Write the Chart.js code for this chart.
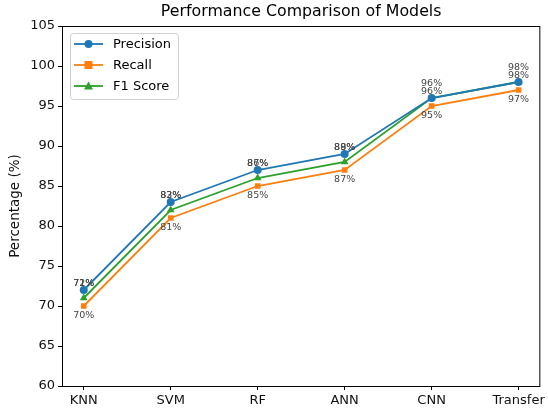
<!DOCTYPE html>
<html>
<head>
<meta charset="utf-8">
<script src="https://cdn.jsdelivr.net/npm/chart.js@4"></script>
<style>
  body { margin: 0; background: #fff; }
  #wrap { width: 548px; height: 413px; }
</style>
</head>
<body>
<div id="wrap"><canvas id="perf"></canvas></div>
<script>
const models = ['KNN', 'SVM', 'RF', 'ANN', 'CNN', 'Transfer']
const precision = [72, 83, 87, 89, 96, 98]
const recall = [70, 81, 85, 87, 95, 97]
const f1 = [71, 82, 86, 88, 96, 98]
const yTicks = [60, 65, 70, 75, 80, 85, 90, 95, 100, 105]

const FONT = "'DejaVu Sans', sans-serif"

const toPts = arr => arr.map((v, i) => ({x: i, y: v}))

// draws frame, title, legend and the % labels
const extras = {
  id: 'extras',
  afterDatasetsDraw(chart) {
    const {ctx, chartArea: a, scales} = chart
    ctx.save()
    // frame
    ctx.strokeStyle = '#000'
    ctx.lineWidth = 1
    ctx.strokeRect(a.left + 0.5, a.top + 0.5, a.right - a.left - 1, a.bottom - a.top)

    // title
    ctx.fillStyle = '#000'
    ctx.font = '15.8px ' + FONT
    ctx.textAlign = 'center'
    ctx.textBaseline = 'middle'
    ctx.fillText('Performance Comparison of Models', (a.left + a.right) / 2, 12)

    // value labels
    ctx.font = '9.5px ' + FONT
    ctx.fillStyle = '#444'
    const lab = (arr, off) => arr.forEach((v, i) => {
      ctx.fillText(v + '%', scales.x.getPixelForValue(i), scales.y.getPixelForValue(v + off))
    })
    lab(precision, 0.8)
    lab(f1, 1.8)
    lab(recall, -1.15)

    // legend
    const lx = 70, ly = 33, lw = 108, lh = 66
    ctx.fillStyle = 'rgba(255,255,255,0.8)'
    ctx.strokeStyle = '#d0d0d0'
    ctx.beginPath()
    ctx.roundRect(lx + 0.5, ly + 0.5, lw, lh, 3)
    ctx.fill()
    ctx.stroke()
    chart.data.datasets.forEach((ds, k) => {
      const y = ly + 11 + k * 21
      ctx.strokeStyle = ds.borderColor
      ctx.lineWidth = 1.8
      ctx.beginPath()
      ctx.moveTo(lx + 4, y)
      ctx.lineTo(lx + 33, y)
      ctx.stroke()
      ctx.fillStyle = ds.borderColor
      const cx = lx + 18.5
      if (ds.pointStyle === 'circle') {
        ctx.beginPath(); ctx.arc(cx, y, 4, 0, Math.PI * 2); ctx.fill()
      } else if (ds.pointStyle === 'rect') {
        ctx.fillRect(cx - 4, y - 4, 8, 8)
      } else {
        ctx.beginPath(); ctx.moveTo(cx, y - 4.5); ctx.lineTo(cx + 4.5, y + 3.5); ctx.lineTo(cx - 4.5, y + 3.5); ctx.closePath(); ctx.fill()
      }
      ctx.fillStyle = '#000'
      ctx.font = '13px ' + FONT
      ctx.textAlign = 'left'
      ctx.fillText(ds.label, lx + 43, y + 1)
    })
    ctx.restore()
  }
}

const ds = (label, color, style, data) => ({
  label,
  data: toPts(data),
  borderColor: color,
  backgroundColor: color,
  borderWidth: 1.8,
  pointStyle: style,
  pointRadius: style === 'triangle' ? 4.5 : 4,
  pointBorderWidth: 0,
  tension: 0
})

new Chart(document.getElementById('perf'), {
  type: 'line',
  data: {
    datasets: [
      ds('Precision', '#1f77b4', 'circle', precision),
      ds('Recall', '#ff7f0e', 'rect', recall),
      ds('F1 Score', '#2ca02c', 'triangle', f1)
    ]
  },
  options: {
    responsive: true,
    maintainAspectRatio: false,
    animation: false,
    layout: { padding: { top: 26, right: 6, left: 7, bottom: 0 } },
    plugins: { legend: { display: false }, title: { display: false }, tooltip: { enabled: false } },
    scales: {
      x: {
        type: 'linear',
        min: -0.25,
        max: 5.25,
        afterBuildTicks: s => { s.ticks = models.map((m, i) => ({value: i})) },
        afterFit: s => { s.height = 27 },
        ticks: {
          callback: v => models[v],
          color: '#111',
          font: { family: FONT, size: 13 },
          padding: 3,
          maxRotation: 0,
          autoSkip: false
        },
        grid: { drawOnChartArea: false, drawTicks: true, tickLength: 4, color: '#000' },
        border: { display: false }
      },
      y: {
        min: 60,
        max: 105,
        afterBuildTicks: s => { s.ticks = yTicks.map(v => ({value: v})) },
        afterFit: s => { s.width = 55 },
        ticks: {
          color: '#111',
          font: { family: FONT, size: 13 },
          padding: 3
        },
        title: {
          display: true,
          text: 'Percentage (%)',
          color: '#111',
          font: { family: FONT, size: 13.5 },
          padding: { top: 0, bottom: 0 }
        },
        grid: { drawOnChartArea: false, drawTicks: true, tickLength: 4, color: '#000' },
        border: { display: false }
      }
    }
  },
  plugins: [extras]
})
</script>
</body>
</html>
